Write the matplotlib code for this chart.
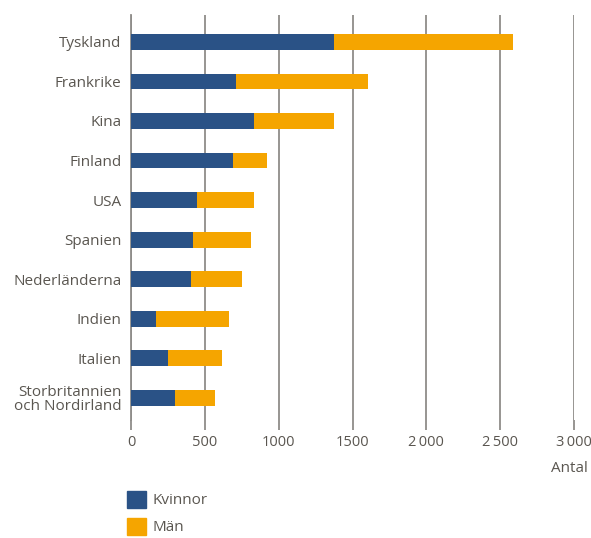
import matplotlib.pyplot as plt
from matplotlib.patches import Patch
from matplotlib.ticker import FuncFormatter

countries = ['Tyskland', 'Frankrike', 'Kina', 'Finland', 'USA', 'Spanien',
             'Nederländerna', 'Indien', 'Italien',
             'Storbritannien\noch Nordirland']
kvinnor = [1376, 710, 832, 688, 447, 420, 408, 167, 253, 298]
totals = [2589, 1608, 1378, 918, 832, 810, 749, 663, 614, 568]
man = [t - k for t, k in zip(totals, kvinnor)]

BLUE = '#2a5286'
ORANGE = '#f5a500'
GREY_TEXT = '#5a5650'
GRID = '#8f8c89'
FS = 11

plt.rcParams['font.family'] = ['Open Sans', 'DejaVu Sans']
plt.rcParams['font.size'] = FS

fig = plt.figure(figsize=(5.91, 5.38), dpi=100)
ax = fig.add_axes([131 / 591, 118 / 538, 443 / 591, 405 / 538])

pos = list(range(len(countries)))
ax.barh(pos, kvinnor, height=0.4, color=BLUE, zorder=3)
ax.barh(pos, man, left=kvinnor, height=0.4, color=ORANGE, zorder=3)

ax.set_xlim(0, 3000)
ax.set_ylim(9.56, -0.68)
ax.set_xticks([0, 500, 1000, 1500, 2000, 2500, 3000])
ax.xaxis.set_major_formatter(FuncFormatter(
    lambda v, p: f'{int(v):,}'.replace(',', '\u2009') if v >= 2000 else f'{int(v)}'))
ax.set_yticks(pos)
ax.set_yticklabels(countries, color=GREY_TEXT, fontsize=FS, linespacing=0.95)

ax.grid(axis='x', color=GRID, linewidth=1.3, zorder=0)
for s in ['top', 'right', 'bottom']:
    ax.spines[s].set_visible(False)
ax.spines['left'].set_color(GRID)
ax.spines['left'].set_linewidth(1.3)
ax.tick_params(axis='y', length=0, pad=7)
ax.tick_params(axis='x', length=7, width=1.3, color=GRID, colors=GREY_TEXT,
               labelsize=10.5, pad=4)
ax.tick_params(axis='x', color=GRID)

fig.text(588 / 591, 1 - 468 / 538, 'Antal', ha='right', va='center',
         color=GREY_TEXT, fontsize=FS)

handles = [Patch(color=BLUE, label='Kvinnor'), Patch(color=ORANGE, label='Män')]
leg = fig.legend(handles=handles, loc='upper left',
                 bbox_to_anchor=(113 / 591, 1 - 477 / 538), frameon=False,
                 handlelength=1.25, handleheight=1.35, handletextpad=0.45,
                 labelspacing=0.6, fontsize=FS)
for t in leg.get_texts():
    t.set_color(GREY_TEXT)

fig.savefig('out.png', dpi=100)
